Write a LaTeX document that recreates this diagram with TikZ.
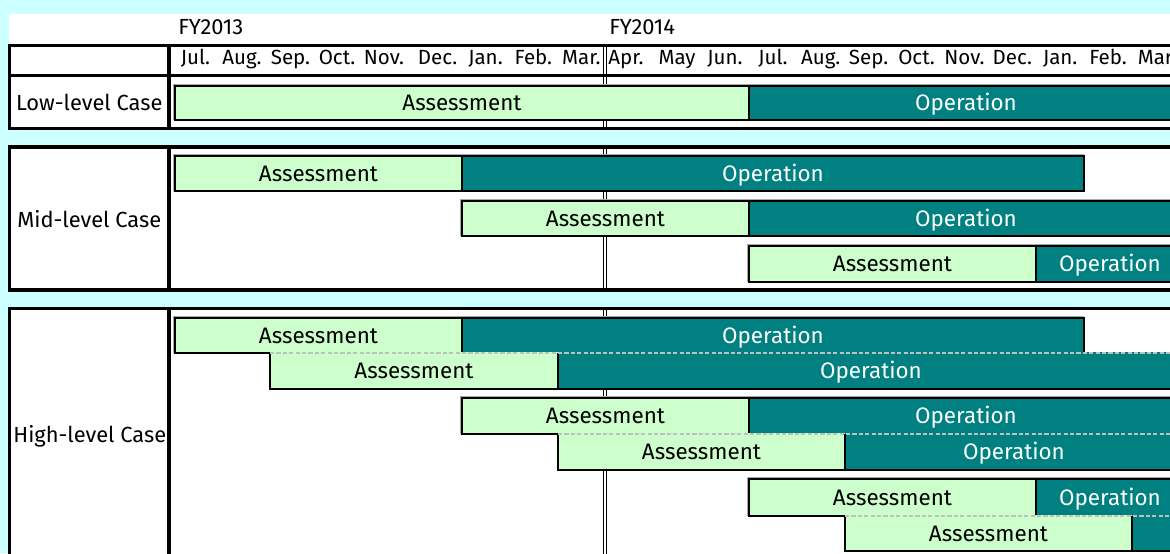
\documentclass[tikz,border=0pt]{standalone}
\usepackage{fontspec}
\setmainfont{Fira Sans}
\definecolor{sheetbg}{HTML}{CCFFFF}
\definecolor{assessfill}{HTML}{CCFFCC}
\definecolor{operfill}{HTML}{008080}
\definecolor{seamgray}{HTML}{C0C0C0}
\definecolor{edgegray}{HTML}{A8A8A8}
\tikzset{
  frame/.style={draw=black, line width=2.4pt},
  fyline/.style={draw=black, line width=1pt},
  barline/.style={draw=black, line width=1.1pt},
  assessbar/.style={fill=assessfill, barline},
  operbar/.style={fill=operfill, barline},
  edgeshade/.style={draw=edgegray, line width=0.8pt},
  seam/.style={draw=seamgray, line width=1.1pt, dash pattern=on 3.2pt off 1.6pt},
  txt/.style={anchor=base, inner sep=0pt, font=\fontsize{16.8}{19}\selectfont},
  asstxt/.style={txt, text=black},
  optxt/.style={txt, text=white},
  monthtxt/.style={anchor=base, inner sep=0pt, font=\fontsize{15.4}{17}\selectfont},
  casetxt/.style={anchor=base, inner sep=0pt, font=\fontsize{16.4}{19}\selectfont},
}
% a free-standing bar: top, bottom, assessment start, hand-over, operation end
\newcommand{\ganttbar}[5]{%
  \draw[edgeshade] (#3-1.6,#2) -- (#3-1.6,#1-1.6) -- (#5,#1-1.6);
  \draw[assessbar] (#3,#1) rectangle (#4,#2);
  \draw[operbar] (#4,#1) rectangle (#5,#2);
}
% a bar stacked right under another one, sharing a dashed seam with it
\newcommand{\ganttbarjoined}[5]{%
  \fill[assessfill] (#3,#1-0.9) rectangle (#4,#2);
  \fill[operfill] (#4,#1-0.9) rectangle (#5,#2);
  \draw[barline] (#3,#1) -- (#3,#2) -- (#5,#2) -- (#5,#1);
  \draw[barline] (#4,#1) -- (#4,#2);
  \draw[seam] (#3,#1) -- (#5,#1);
}
% the fiscal-year split: a thin double rule
\newcommand{\fysplit}[2]{%
  \draw[fyline] (603.4,#1) -- (603.4,#2);
  \draw[fyline] (606.6,#1) -- (606.6,#2);
}
\begin{document}
\begin{tikzpicture}[x=0.75pt,y=-0.75pt]
  \useasboundingbox (0,0) rectangle (1170,553);
  \fill[sheetbg] (0,0) rectangle (1170,553);
  \clip (0,0) rectangle (1170,553);

  % heading strip
  \fill[white] (9,14) rectangle (1200,46);
  \node[casetxt, anchor=base west] (fy13) at (178,34.3) {FY2013};
  \node[casetxt, anchor=base west] (fy14) at (609,34.3) {FY2014};

  % ---- month row and low-level case ----
  \fill[white] (9.5,45.5) rectangle (1200,128.7);
  \fysplit{45.5}{128.7}
  \draw[frame] (9.5,45.5) rectangle (1200,128.7);
  \draw[frame] (9.5,75.7) -- (1200,75.7);
  \draw[frame] (169,45.5) -- (169,128.7);

  \foreach \m/\x [count=\i] in {Jul./195.5, Aug./242, Sep./290.5, Oct./337, Nov./384,
      Dec./437.6, Jan./485.5, Feb./533.4, Mar./581.3, Apr./626, May/677.1, Jun./725,
      Jul./772.9, Aug./820.7, Sep./868.6, Oct./916.5, Nov./964.4, Dec./1012.3,
      Jan./1060.2, Feb./1108, Mar./1157}
    \node[monthtxt] (month\i) at (\x,64.3) {\m};

  \node[casetxt] (lowcase) at (89.3,110.7) {Low-level Case};
  \ganttbar{86}{120}{175}{749}{1184}
  \node[asstxt] (lowA) at (462,110.7) {Assessment};
  \node[optxt] (lowO) at (966,110.7) {Operation};

  % ---- mid-level case ----
  \fill[white] (9.5,147) rectangle (1200,290);
  \fysplit{147}{290}
  \draw[frame] (9.5,147) rectangle (1200,290);
  \draw[frame] (169,147) -- (169,290);
  \node[casetxt] (midcase) at (89.3,227.3) {Mid-level Case};

  \ganttbar{156}{191}{175}{462}{1084}
  \node[asstxt] (midA1) at (318.5,181.2) {Assessment};
  \node[optxt] (midO1) at (773,181.2) {Operation};
  \ganttbar{201}{236}{462}{749}{1184}
  \node[asstxt] (midA2) at (605.5,226.2) {Assessment};
  \node[optxt] (midO2) at (966,226.2) {Operation};
  \ganttbar{246}{282}{749}{1036}{1184}
  \node[asstxt] (midA3) at (892.5,271.7) {Assessment};
  \node[optxt] (midO3) at (1110,271.7) {Operation};

  % ---- high-level case ----
  \fill[white] (9.5,308.5) rectangle (1200,580);
  \fysplit{308.5}{580}
  \draw[frame] (9.5,308.5) rectangle (1200,580);
  \draw[frame] (169,308.5) -- (169,580);
  \node[casetxt] (highcase) at (89.8,442.3) {High-level Case};

  \ganttbar{318}{353}{175}{462}{1084}
  \ganttbarjoined{353}{389}{270}{558}{1184}
  \node[asstxt] (hiA1) at (318.5,343.2) {Assessment};
  \node[optxt] (hiO1) at (773,343.2) {Operation};
  \node[asstxt] (hiA2) at (414,378.7) {Assessment};
  \node[optxt] (hiO2) at (871,378.7) {Operation};

  \ganttbar{398}{434}{462}{749}{1184}
  \ganttbarjoined{434}{470}{558}{845}{1184}
  \node[asstxt] (hiA3) at (605.5,423.7) {Assessment};
  \node[optxt] (hiO3) at (966,423.7) {Operation};
  \node[asstxt] (hiA4) at (701.5,459.7) {Assessment};
  \node[optxt] (hiO4) at (1014,459.7) {Operation};

  \ganttbar{479}{516}{749}{1036}{1184}
  \ganttbarjoined{516}{551}{845}{1132}{1184}
  \node[asstxt] (hiA5) at (892.5,505.2) {Assessment};
  \node[optxt] (hiO5) at (1110,505.2) {Operation};
  \node[asstxt] (hiA6) at (988.5,541.2) {Assessment};
\end{tikzpicture}
\end{document}
